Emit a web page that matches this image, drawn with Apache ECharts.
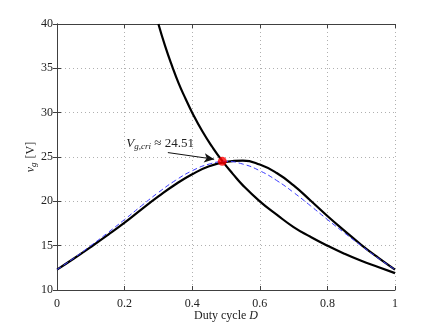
<!DOCTYPE html>
<html lang="en" style="height: 100%">
<head>
    <meta charset="utf-8">
</head>
<body style="height: 100%; margin: 0; background: #fff">
<div id="main" style="width: 436px; height: 328px"></div>

<script type="text/javascript" src="https://cdn.jsdelivr.net/npm/echarts@6/dist/echarts.min.js"></script>

<script type="text/javascript">
    // duty cycle samples for the two bell shaped curves
    var dutyBell = [0, 0.05, 0.1, 0.15, 0.2, 0.25, 0.3, 0.35, 0.4, 0.45, 0.5,
        0.55, 0.6, 0.65, 0.7, 0.75, 0.8, 0.85, 0.9, 0.95, 1];
    // solid black curve
    var vgExact = [12.3, 13.55, 14.85, 16.2, 17.6, 19.1, 20.55, 21.9, 23.05, 23.95, 24.45,
        24.6, 24.15, 23.2, 21.8, 20.1, 18.35, 16.7, 15.1, 13.65, 12.3];
    // blue dashed curve
    var vgApprox = [12.3, 13.6, 15.0, 16.45, 17.95, 19.5, 21.0, 22.35, 23.45, 24.2, 24.5,
        24.2, 23.45, 22.35, 21.0, 19.5, 17.95, 16.45, 15.0, 13.6, 12.3];
    // falling curve
    var dutyFall = [0.3, 0.32, 0.34, 0.36, 0.38, 0.4, 0.43, 0.46, 0.49, 0.52, 0.55,
        0.6, 0.65, 0.7, 0.75, 0.8, 0.85, 0.9, 0.95, 1];
    var vgFall = [40.0, 37.5, 35.3, 33.3, 31.6, 30.0, 27.9, 26.1, 24.5, 23.1, 21.8,
        20.0, 18.5, 17.1, 16.0, 15.0, 14.1, 13.3, 12.6, 11.9];
    // critical point
    var critPoint = [0.489, 24.51];
    var critLabel = '24.51';

    function pairs(xs, ys) {
        return xs.map(function (x, i) { return [x, ys[i]]; });
    }

    var font = 'Liberation Serif';
    var myChart = echarts.init(document.getElementById('main'), null, {renderer: 'canvas'});

    var gridLine = {show: true, lineStyle: {color: '#b0b0b0', type: [1, 3], width: 1}};
    var boxLine = {show: true, lineStyle: {color: '#404040', width: 1}};
    var tick = {show: true, inside: true, length: 4, lineStyle: {color: '#404040'}};

    var option = {
        animation: false,
        backgroundColor: '#fff',
        grid: {left: 57, right: 41, top: 24, bottom: 38},
        xAxis: [{
            type: 'value', min: 0, max: 1, interval: 0.2,
            axisLine: boxLine,
            axisTick: tick,
            axisLabel: {color: '#222', fontFamily: font, fontSize: 12, margin: 8},
            splitLine: gridLine,
            name: 'Duty cycle {i|D}',
            nameLocation: 'middle',
            nameGap: 20,
            nameMoveOverlap: false,
            nameTextStyle: {
                color: '#222', fontFamily: font, fontSize: 12,
                rich: {i: {fontFamily: font, fontStyle: 'italic', fontSize: 12, color: '#222'}}
            }
        }, {
            type: 'value', min: 0, max: 1, interval: 0.2, position: 'top',
            axisLine: boxLine,
            axisTick: tick,
            axisLabel: {show: false},
            splitLine: {show: false}
        }],
        yAxis: [{
            type: 'value', min: 10, max: 40, interval: 5,
            axisLine: boxLine,
            axisTick: tick,
            axisLabel: {color: '#222', fontFamily: font, fontSize: 12, margin: 4},
            splitLine: gridLine,
            name: '{i|v}{sub|g} [V]',
            nameLocation: 'middle',
            nameRotate: 90,
            nameGap: 19,
            nameMoveOverlap: false,
            nameTextStyle: {
                color: '#222', fontFamily: font, fontSize: 12,
                rich: {
                    i: {fontFamily: font, fontStyle: 'italic', fontSize: 12, color: '#222'},
                    sub: {fontFamily: font, fontStyle: 'italic', fontSize: 9, color: '#222', padding: [5, 1, 0, 0]}
                }
            }
        }, {
            type: 'value', min: 10, max: 40, interval: 5, position: 'right',
            axisLine: boxLine,
            axisTick: tick,
            axisLabel: {show: false},
            splitLine: {show: false}
        }],
        series: [{
            type: 'line',
            data: pairs(dutyFall, vgFall),
            smooth: 0.5,
            symbol: 'none',
            clip: true,
            lineStyle: {color: '#000', width: 2.2},
            z: 3
        }, {
            type: 'line',
            data: pairs(dutyBell, vgExact),
            smooth: 0.5,
            symbol: 'none',
            lineStyle: {color: '#000', width: 2.2},
            z: 3
        }, {
            type: 'line',
            data: pairs(dutyBell, vgApprox),
            smooth: 0.5,
            symbol: 'none',
            lineStyle: {color: '#3a3aff', width: 1, type: [5, 3]},
            z: 4,
            markLine: {
                silent: true,
                symbol: ['none', 'arrow'],
                symbolSize: [7, 10],
                label: {show: false},
                lineStyle: {color: '#111', width: 1, type: 'solid'},
                data: [[{coord: [0.328, 25.5]}, {coord: [0.465, 24.75]}]]
            }
        }, {
            type: 'scatter',
            data: [critPoint],
            symbol: 'circle',
            symbolSize: 9,
            itemStyle: {color: '#ff0000'},
            z: 6,
            markPoint: {
                silent: true,
                symbol: 'circle',
                symbolSize: 0,
                data: [{coord: [0.305, 26.5]}],
                label: {
                    show: true,
                    position: 'inside',
                    formatter: '{i|V}{sub|g,cri}{t| ≈ ' + critLabel + '}',
                    rich: {
                        i: {fontFamily: font, fontStyle: 'italic', fontSize: 13, color: '#222'},
                        sub: {fontFamily: font, fontStyle: 'italic', fontSize: 9, color: '#222', padding: [6, 0, 0, 0]},
                        t: {fontFamily: font, fontSize: 13, color: '#222'}
                    }
                }
            }
        }]
    };

    myChart.setOption(option);
</script>
</body>
</html>
